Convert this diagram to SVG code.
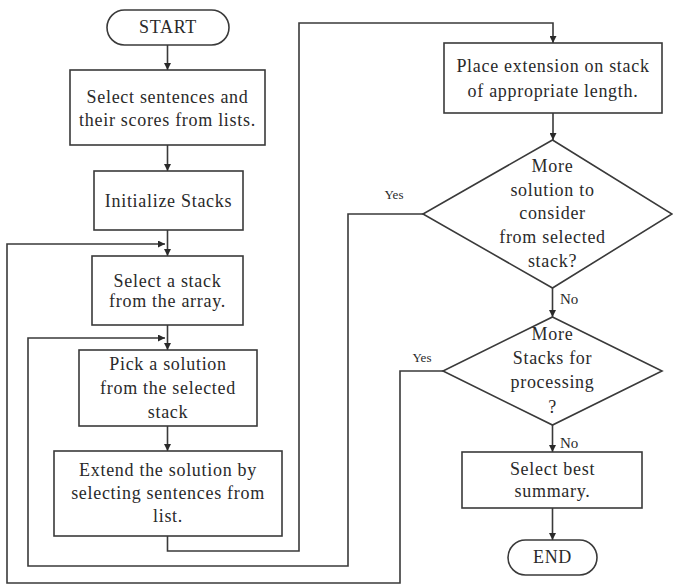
<svg xmlns="http://www.w3.org/2000/svg" width="673" height="585" viewBox="0 0 673 585">
  <style>
    .shape { fill: #ffffff; stroke: #3a3a3a; stroke-width: 1.6; }
    .link { fill: none; stroke: #3a3a3a; stroke-width: 1.6; }
    .label { font-family: "Liberation Serif", "Times New Roman", serif; font-size: 18px; fill: #2a2a2a; letter-spacing: 0.7px; text-anchor: middle; }
    .tag { font-family: "Liberation Serif", "Times New Roman", serif; fill: #2a2a2a; }
  </style>
  <defs>
    <marker id="arrow" viewBox="0 0 10 10" refX="10" refY="5" markerWidth="7" markerHeight="7" markerUnits="userSpaceOnUse" orient="auto">
      <path d="M0,0 L10,5 L0,10 Z" fill="#2a2a2a"/>
    </marker>
  </defs>
  <rect width="673" height="585" fill="#ffffff"/>

  <g id="connectors">
    <path class="link" d="M167.5,45 V70" marker-end="url(#arrow)"/>
    <path class="link" d="M167.5,145 V171" marker-end="url(#arrow)"/>
    <path class="link" d="M167.5,230 V256" marker-end="url(#arrow)"/>
    <path class="link" d="M167.5,325 V350" marker-end="url(#arrow)"/>
    <path class="link" d="M167.5,426 V451" marker-end="url(#arrow)"/>
    <path class="link" d="M167.5,536 V551 H299 V23 H553 V43" marker-end="url(#arrow)"/>
    <path class="link" d="M553,113 V140" marker-end="url(#arrow)"/>
    <path class="link" d="M423,214 H348 V566 H28 V338 H165" marker-end="url(#arrow)"/>
    <path class="link" d="M552.5,288 V317" marker-end="url(#arrow)"/>
    <path class="link" d="M443,371 H400 V583 H7 V244 H165" marker-end="url(#arrow)"/>
    <path class="link" d="M552.5,425 V452" marker-end="url(#arrow)"/>
    <path class="link" d="M552.5,508 V540" marker-end="url(#arrow)"/>
    <text class="tag" x="394" y="199" font-size="13" text-anchor="middle">Yes</text>
    <text class="tag" x="422" y="362" font-size="13" text-anchor="middle">Yes</text>
    <text class="tag" x="560" y="304" font-size="15">No</text>
    <text class="tag" x="560" y="448" font-size="15">No</text>
  </g>

  <g id="start">
    <rect class="shape" x="107" y="10" width="122" height="35" rx="17.5"/>
    <text class="label" x="168" y="33">START</text>
  </g>

  <g id="select-sentences">
    <rect class="shape" x="70" y="70" width="195" height="75"/>
    <text class="label" x="167.5" y="103">Select sentences and</text>
    <text class="label" x="167.5" y="126">their scores from lists.</text>
  </g>

  <g id="init-stacks">
    <rect class="shape" x="94" y="171" width="149" height="59"/>
    <text class="label" x="168.5" y="207">Initialize Stacks</text>
  </g>

  <g id="select-stack">
    <rect class="shape" x="92" y="256" width="151" height="69"/>
    <text class="label" x="167.5" y="287">Select a stack</text>
    <text class="label" x="167.5" y="307">from the array.</text>
  </g>

  <g id="pick-solution">
    <rect class="shape" x="79" y="350" width="178" height="76"/>
    <text class="label" x="168" y="370">Pick a solution</text>
    <text class="label" x="168" y="394">from the selected</text>
    <text class="label" x="168" y="418">stack</text>
  </g>

  <g id="extend-solution">
    <rect class="shape" x="54" y="451" width="228" height="85"/>
    <text class="label" x="168" y="476">Extend the solution by</text>
    <text class="label" x="168" y="499">selecting sentences from</text>
    <text class="label" x="168" y="522">list.</text>
  </g>

  <g id="place-extension">
    <rect class="shape" x="444" y="43" width="218" height="70"/>
    <text class="label" x="553" y="72">Place extension on stack</text>
    <text class="label" x="553" y="97">of appropriate length.</text>
  </g>

  <g id="more-solutions">
    <polygon class="shape" points="552.5,140 672,214 552.5,288 423,214"/>
    <text class="label" x="552.5" y="172">More</text>
    <text class="label" x="552.5" y="196">solution to</text>
    <text class="label" x="552.5" y="219">consider</text>
    <text class="label" x="552.5" y="243">from selected</text>
    <text class="label" x="552.5" y="267">stack?</text>
  </g>

  <g id="more-stacks">
    <polygon class="shape" points="552.5,317 662,371 552.5,425 443,371"/>
    <text class="label" x="552.5" y="340">More</text>
    <text class="label" x="552.5" y="364">Stacks for</text>
    <text class="label" x="552.5" y="388">processing</text>
    <text class="label" x="552.5" y="413">?</text>
  </g>

  <g id="select-best">
    <rect class="shape" x="462" y="452" width="180" height="56"/>
    <text class="label" x="552.5" y="475">Select best</text>
    <text class="label" x="552.5" y="497">summary.</text>
  </g>

  <g id="end">
    <rect class="shape" x="508" y="540" width="89" height="35" rx="17.5"/>
    <text class="label" x="552.5" y="563">END</text>
  </g>
</svg>
